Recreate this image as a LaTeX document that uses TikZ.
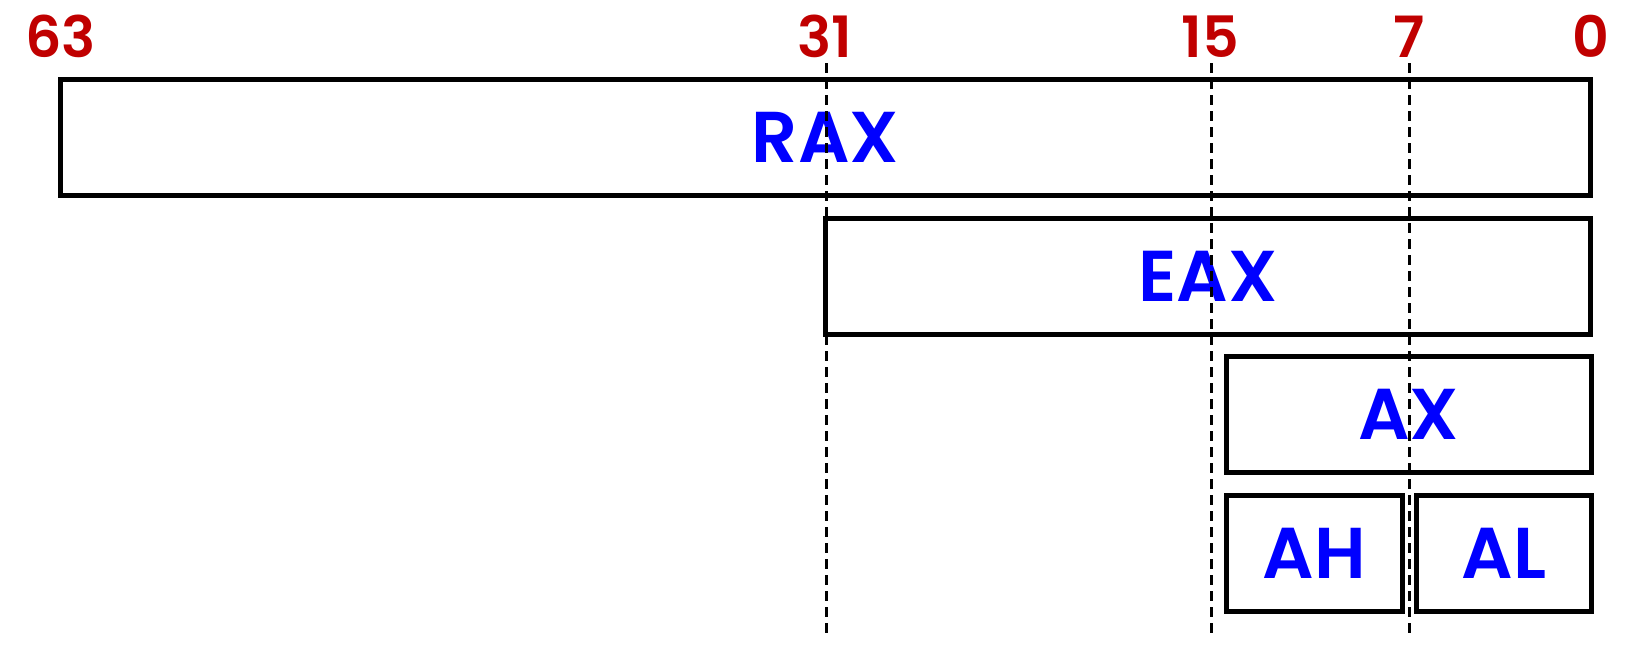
\documentclass[tikz,border=0pt]{standalone}
\usepackage{fontspec}
\setmainfont{Poppins}[BoldFont={Poppins SemiBold}]
\definecolor{regblue}{RGB}{0,0,255}
\definecolor{bitred}{RGB}{192,0,0}
\begin{document}
\begin{tikzpicture}[x=1pt,y=-1pt,
  regbox/.style={draw=black,line width=5pt,inner sep=0pt,outer sep=0pt,
    text=regblue,font=\fontsize{72}{80}\selectfont\bfseries},
  bitlabel/.style={text=bitred,inner sep=0pt,anchor=base,
    font=\fontsize{57}{62}\selectfont\bfseries},
  guide/.style={draw=black,line width=3pt,dash pattern=on 10pt off 6pt}]
\useasboundingbox (0,0) rectangle (1634,651);
% boxes
\node[regbox,minimum width=1530pt,minimum height=116pt] (rax) at (825.5,137.5) {RAX};
\node[regbox,minimum width=765pt,minimum height=116pt] (eax) at (1208,276.5) {EAX};
\node[regbox,minimum width=364.5pt,minimum height=116pt] (ax) at (1408.75,414.5) {AX};
\node[regbox,minimum width=175.5pt,minimum height=116pt] (ah) at (1314.25,553.5) {AH};
\node[regbox,minimum width=174.5pt,minimum height=116pt] (al) at (1503.75,553.5) {AL};
% bit labels
\node[bitlabel] (b63) at (60.5,57) {63};
\node[bitlabel] (b31) at (825,57) {31};
\node[bitlabel] (b15) at (1210.5,57) {15};
\node[bitlabel] (b7) at (1409,57) {7};
\node[bitlabel] (b0) at (1591,57) {0};
% guide lines
\coordinate (t31) at (826,63);
\coordinate (e31) at (826,634);
\coordinate (t15) at (1211,63);
\coordinate (e15) at (1211,634);
\coordinate (t7) at (1409,63);
\coordinate (e7) at (1409,634);
\draw[guide] (t31) -- (e31);
\draw[guide] (t15) -- (e15);
\draw[guide] (t7) -- (e7);
\end{tikzpicture}
\end{document}
